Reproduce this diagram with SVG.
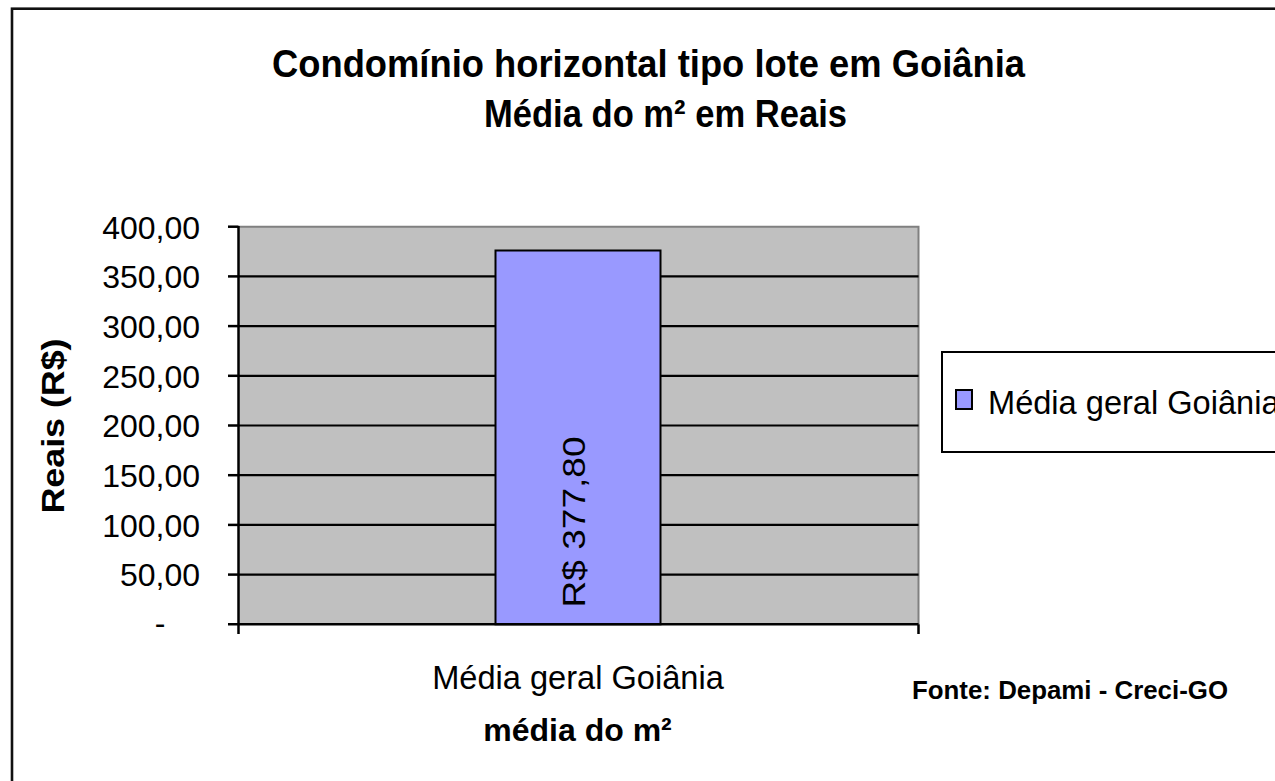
<svg xmlns="http://www.w3.org/2000/svg" width="1275" height="781" viewBox="0 0 1275 781">
<style>
text{font-family:"Liberation Sans",Arial,sans-serif;fill:#000}
.t{font-size:32px;font-weight:bold;text-anchor:middle}
.tick{font-size:32px;text-anchor:end}
.grid{stroke:#000;stroke-width:2.2}
.ax{stroke:#000;stroke-width:2.5;fill:none}
</style>
<rect width="1275" height="781" fill="#fff"/>
<rect id="frame" x="12" y="8.7" width="1290" height="800" fill="none" stroke="#111" stroke-width="2.6"/>
<g id="title">
<text class="t" x="648.5" y="76.5" style="font-size:38px" textLength="753" lengthAdjust="spacingAndGlyphs">Condomínio horizontal tipo lote em Goiânia</text>
<text class="t" x="665.5" y="126.5" style="font-size:38px" textLength="363" lengthAdjust="spacingAndGlyphs">Média do m² em Reais</text>
</g>
<g id="plot">
<rect x="238.5" y="226.7" width="680" height="397.6" fill="#C0C0C0"/>
<polyline points="238.5,226.7 918.5,226.7 918.5,624.3" fill="none" stroke="#808080" stroke-width="2"/>
<g class="grid">
<line x1="238.5" y1="276.4" x2="918.5" y2="276.4"/>
<line x1="238.5" y1="326.1" x2="918.5" y2="326.1"/>
<line x1="238.5" y1="375.8" x2="918.5" y2="375.8"/>
<line x1="238.5" y1="425.5" x2="918.5" y2="425.5"/>
<line x1="238.5" y1="475.2" x2="918.5" y2="475.2"/>
<line x1="238.5" y1="524.9" x2="918.5" y2="524.9"/>
<line x1="238.5" y1="574.6" x2="918.5" y2="574.6"/>
</g>
</g>
<g id="bar">
<rect x="495.5" y="250.5" width="165" height="373.8" fill="#9999FF" stroke="#000" stroke-width="2"/>
<text transform="translate(585,522) rotate(-90)" font-size="32" text-anchor="middle" textLength="171" lengthAdjust="spacingAndGlyphs">R$ 377,80</text>
</g>
<g id="axes">
<line class="ax" x1="238.5" y1="226" x2="238.5" y2="634"/>
<line class="ax" x1="228" y1="624.3" x2="918.5" y2="624.3"/>
<line class="ax" x1="918.5" y1="624.3" x2="918.5" y2="634"/>
<g class="ax">
<line x1="228" y1="226.7" x2="238.5" y2="226.7"/>
<line x1="228" y1="276.4" x2="238.5" y2="276.4"/>
<line x1="228" y1="326.1" x2="238.5" y2="326.1"/>
<line x1="228" y1="375.8" x2="238.5" y2="375.8"/>
<line x1="228" y1="425.5" x2="238.5" y2="425.5"/>
<line x1="228" y1="475.2" x2="238.5" y2="475.2"/>
<line x1="228" y1="524.9" x2="238.5" y2="524.9"/>
<line x1="228" y1="574.6" x2="238.5" y2="574.6"/>
</g>
</g>
<g id="yticks">
<text class="tick" x="200" y="238.5">400,00</text>
<text class="tick" x="200" y="288.2">350,00</text>
<text class="tick" x="200" y="337.9">300,00</text>
<text class="tick" x="200" y="387.6">250,00</text>
<text class="tick" x="200" y="437.3">200,00</text>
<text class="tick" x="200" y="487">150,00</text>
<text class="tick" x="200" y="536.7">100,00</text>
<text class="tick" x="200" y="586.4">50,00</text>
<text class="tick" x="165.5" y="634">-</text>
</g>
<g id="ytitle">
<text transform="translate(64,426) rotate(-90)" font-size="31" font-weight="bold" text-anchor="middle" textLength="175" lengthAdjust="spacingAndGlyphs">Reais (R$)</text>
</g>
<g id="xlabels">
<text x="578" y="689" font-size="32.6" text-anchor="middle">Média geral Goiânia</text>
<text class="t" x="577.5" y="741">média do m²</text>
</g>
<g id="legend">
<rect x="942" y="352" width="350" height="100" fill="#fff" stroke="#000" stroke-width="2"/>
<rect x="956" y="390" width="16" height="19" fill="#9999FF" stroke="#000" stroke-width="2"/>
<text x="988" y="414" font-size="32.6">Média geral Goiânia</text>
</g>
<g id="source">
<text x="912" y="699" font-size="25" font-weight="bold" textLength="316" lengthAdjust="spacingAndGlyphs">Fonte: Depami - Creci-GO</text>
</g>
</svg>
